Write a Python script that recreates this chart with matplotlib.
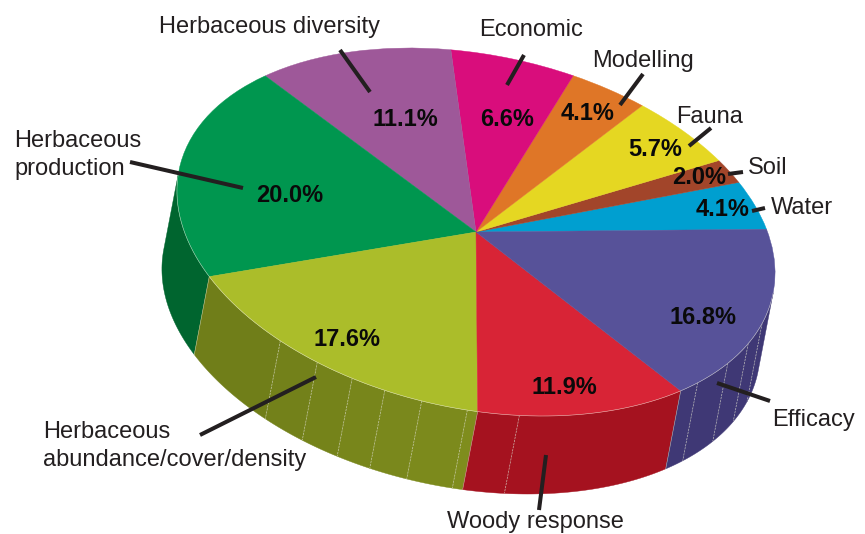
import numpy as np
import matplotlib
matplotlib.use('Agg')
import matplotlib.pyplot as plt
from matplotlib.patches import Wedge
from matplotlib.transforms import Affine2D
from matplotlib.colors import to_rgb

plt.rcParams['font.family'] = ['Liberation Sans', 'DejaVu Sans']

# data, counter-clockwise from the right hand side
names = ['Water', 'Soil', 'Fauna', 'Modelling', 'Economic', 'Herbaceous diversity',
         'Herbaceous production', 'Herbaceous abundance', 'Woody response', 'Efficacy']
values = [4.1, 2.0, 5.7, 4.1, 6.6, 11.1, 20.0, 17.6, 11.9, 16.8]

top_colors = ['#009FD0', '#A2452A', '#E5D722', '#DF7627', '#D90D7C',
              '#9E5899', '#00964F', '#ABBD2A', '#D82436', '#575299']
# wall shade at start / end of each slice
wall_start = ['#007BA0', '#7E351F', '#B0A518', '#AD5B1D', '#A80A60',
              '#7A4476', '#00652F', '#6F7D19', '#A5121F', '#3F3875']
wall_end = ['#007BA0', '#7E351F', '#B0A518', '#AD5B1D', '#A80A60',
            '#7A4476', '#00652F', '#808E1D', '#A5121F', '#3F3875']

# thin seams on the side wall (rim angle, degrees)
seam_angles = [215.8, 224.6, 232.2, 238.9, 246.2, 255.0, 265.0, 304.5, 314.0, 322.2, 329.7]

# layout, in pixels of the 865x534 picture
START_ANGLE = 0.4
pie_tf = Affine2D.from_values(291, -1.5, -69, -184, 476, 232)
wall_shift = np.array([-15, 78])
pct_pos = [(723, 210), (699, 177), (655, 149), (588, 114), (507, 120),
           (405, 120), (290, 196), (347, 340), (564, 387), (703, 317)]
text_color = '#231F20'

labels = [
    ('Herbaceous diversity', 159, 27),
    ('Economic', 479, 30),
    ('Modelling', 592, 61),
    ('Fauna', 676, 117),
    ('Soil', 748, 168),
    ('Water', 771, 208),
    ('Efficacy', 772, 420),
    ('Woody response', 447, 522),
    ('Herbaceous', 14, 141),
    ('production', 14, 169),
    ('Herbaceous', 43, 432),
    ('abundance/cover/density', 43, 460),
]
leaders = [
    ((340, 50), (370, 92)),
    ((524, 55), (507, 85)),
    ((643, 74), (620, 105)),
    ((711, 128), (689, 146)),
    ((743, 172), (728, 174)),
    ((765, 208), (752, 211)),
    ((130, 162), (243, 188)),
    ((200, 435), (316, 377)),
    ((546, 455), (539, 510)),
    ((717, 383), (770, 401)),
]

fig = plt.figure(figsize=(8.65, 5.34), dpi=100)
ax = fig.add_axes([0, 0, 1, 1])
ax.set_xlim(0, 865)
ax.set_ylim(534, 0)
ax.axis('off')

edges = START_ANGLE + np.concatenate([[0], np.cumsum(values)]) / sum(values) * 360


def rim(t):
    t = np.radians(t)
    return pie_tf.transform(np.column_stack([np.cos(t), np.sin(t)]))


# which part of the rim has a visible wall below it
M = pie_tf.get_matrix()[:2, :2]
d = np.linalg.solve(M, wall_shift)
phi = np.degrees(np.arctan2(d[1], d[0])) % 360
vis_lo, vis_hi = phi - 90, phi + 90

for i in range(len(values)):
    lo, hi = max(edges[i], vis_lo), min(edges[i + 1], vis_hi)
    if hi <= lo:
        continue
    cuts = [lo] + [s for s in seam_angles if lo < s < hi] + [hi]
    c0, c1 = np.array(to_rgb(wall_start[i])), np.array(to_rgb(wall_end[i]))
    for j in range(len(cuts) - 1):
        t = np.linspace(cuts[j], cuts[j + 1], 40)
        p = rim(t)
        poly = np.vstack([p, p[::-1] + wall_shift])
        f = (j + 0.5) / (len(cuts) - 1)
        col = c0 + (c1 - c0) * f
        ax.fill(poly[:, 0], poly[:, 1], color=col, lw=0.3, zorder=1)

# seams and slice borders on the wall
for s in seam_angles:
    p = rim(np.array([s]))[0]
    ax.plot([p[0], p[0] + wall_shift[0]], [p[1], p[1] + wall_shift[1]],
            color='#D8D8C8', lw=0.5, ls=(0, (3, 1.5)), alpha=0.75, zorder=2)
for e in edges:
    if vis_lo < e < vis_hi:
        p = rim(np.array([e]))[0]
        ax.plot([p[0], p[0] + wall_shift[0]], [p[1], p[1] + wall_shift[1]],
                color='#D8E0C8', lw=0.4, alpha=0.7, zorder=2)

# top of the pie
for i in range(len(values)):
    w = Wedge((0, 0), 1, edges[i], edges[i + 1], facecolor=top_colors[i],
              edgecolor=top_colors[i], lw=0.3, zorder=3)
    w.set_transform(pie_tf + ax.transData)
    ax.add_patch(w)
p = rim(np.linspace(vis_lo, vis_hi, 200))
ax.plot(p[:, 0], p[:, 1], color='#F0F0E0', lw=0.4, alpha=0.7, zorder=4)

for (a, b) in leaders:
    ax.plot([a[0], b[0]], [a[1], b[1]], color=text_color, lw=2.9,
            solid_capstyle='butt', zorder=5)

for v, (x, y) in zip(values, pct_pos):
    ax.text(x, y, f'{v:.1f}%', ha='center', va='center', fontsize=17,
            fontweight='bold', color='#0A0A0A', zorder=6)

for txt, x, y in labels:
    ax.text(x, y, txt, ha='left', va='center', fontsize=17, color=text_color, zorder=6)

fig.savefig('out.png', dpi=100)
